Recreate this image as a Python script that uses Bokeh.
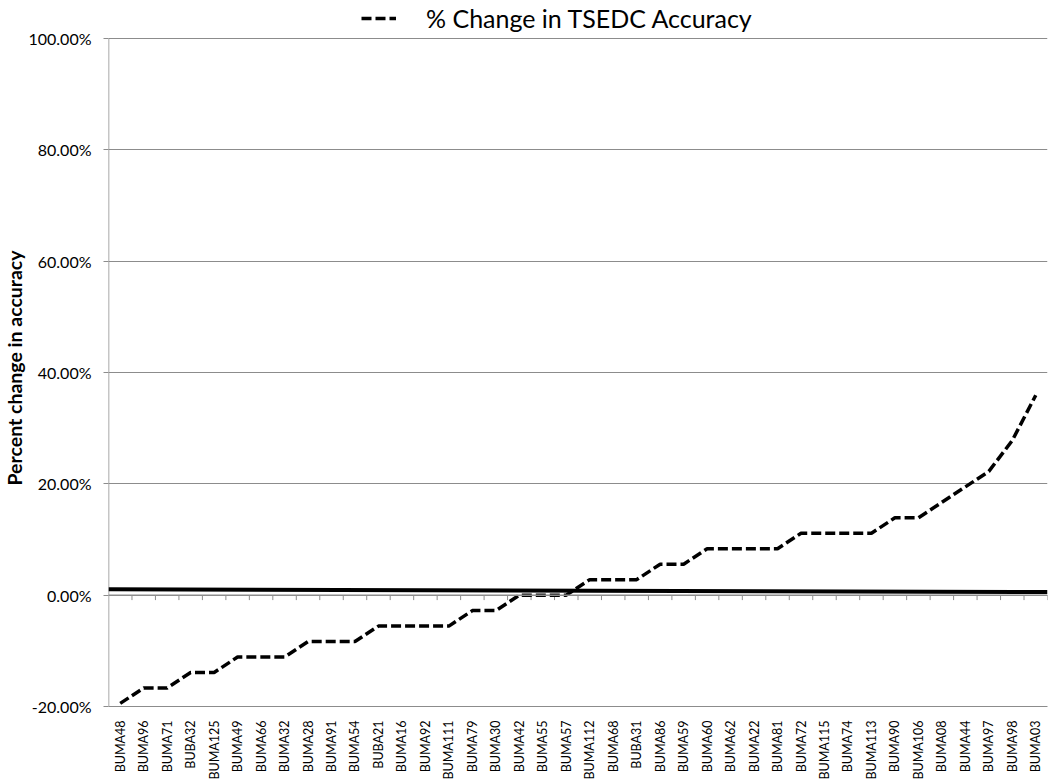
import math
from bokeh.plotting import figure
from bokeh.models import (Range1d, FixedTicker, PrintfTickFormatter, Span, Legend, LegendItem, Title)
from bokeh.embed import file_html
from bokeh.resources import INLINE

# ---- data ----
categories = ["BUMA48", "BUMA96", "BUMA71", "BUBA32", "BUMA125", "BUMA49", "BUMA66", "BUMA32",
              "BUMA28", "BUMA91", "BUMA54", "BUBA21", "BUMA16", "BUMA92", "BUMA111", "BUMA79",
              "BUMA30", "BUMA42", "BUMA55", "BUMA57", "BUMA112", "BUMA68", "BUBA31", "BUMA86",
              "BUMA59", "BUMA60", "BUMA62", "BUMA22", "BUMA81", "BUMA72", "BUMA115", "BUMA74",
              "BUMA113", "BUMA90", "BUMA106", "BUMA08", "BUMA44", "BUMA97", "BUMA98", "BUMA03"]
pct_change = [-19.44, -16.67, -16.67, -13.89, -13.89, -11.11, -11.11, -11.11,
              -8.33, -8.33, -8.33, -5.56, -5.56, -5.56, -5.56, -2.78,
              -2.78, 0.00, 0.00, 0.00, 2.78, 2.78, 2.78, 5.56,
              5.56, 8.33, 8.33, 8.33, 8.33, 11.11, 11.11, 11.11,
              11.11, 13.89, 13.89, 16.67, 19.44, 22.22, 27.78, 35.90]
trend_ends = [1.05, 0.55]          # solid reference line, left and right ends (%)
y_ticks = [-20, 0, 20, 40, 60, 80, 100]
series_label = "% Change in TSEDC Accuracy"
y_title = "Percent change in accuracy"

FONT = "Lato"
GRID = "#8c8c8c"

W, H = 1050, 782
B_LEFT, B_RIGHT, B_BOT = 105, 3, 72
TOP_PAD = 38                      # room above the 100% line for the legend
FRAME_H = H - B_BOT
PLOT_H = FRAME_H - TOP_PAD
y_span = y_ticks[-1] - y_ticks[0]
y_end = y_ticks[-1] + TOP_PAD * y_span / PLOT_H

n = len(categories)
xs = list(range(1, n + 1))

p = figure(width=W, height=H, output_backend="svg", toolbar_location=None,
           x_range=Range1d(0.5, n + 0.5), y_range=Range1d(y_ticks[0], y_end),
           min_border_left=B_LEFT, min_border_right=B_RIGHT,
           min_border_top=0, min_border_bottom=B_BOT)
p.outline_line_color = None
p.background_fill_color = "white"
p.border_fill_color = "white"

# y axis
p.yaxis.ticker = FixedTicker(ticks=y_ticks)
p.yaxis.formatter = PrintfTickFormatter(format="%.2f%%")
p.yaxis.axis_line_color = None
p.yaxis.major_tick_line_color = GRID
p.yaxis.major_tick_out = 5
p.yaxis.major_tick_in = 0
p.yaxis.minor_tick_line_color = None
p.yaxis.major_label_standoff = 12
p.yaxis.major_label_text_font = FONT
p.yaxis.major_label_text_font_size = "16px"
p.yaxis.major_label_text_color = "black"

p.add_layout(Title(text=y_title, align="left", offset=221, standoff=0,
                   text_font=FONT, text_font_size="19.5px", text_font_style="bold",
                   text_color="black"), "left")

# visible y-axis line from -20% to 100%
p.segment(x0=[0.5], x1=[0.5], y0=[y_ticks[0]], y1=[y_ticks[-1]], line_color=GRID, line_width=1.5)

# x axis (labels at the bottom)
p.xaxis.ticker = FixedTicker(ticks=xs)
p.xaxis.major_label_overrides = {i: c for i, c in zip(xs, categories)}
p.xaxis.major_label_orientation = math.pi / 2
p.xaxis.major_label_text_font = FONT
p.xaxis.major_label_text_font_size = "12.5px"
p.xaxis.major_label_text_color = "black"
p.xaxis.axis_line_color = GRID
p.xaxis.major_tick_line_color = None
p.xaxis.minor_tick_line_color = None
p.xaxis.major_label_standoff = 8

# grid
p.xgrid.grid_line_color = None
p.ygrid.ticker = FixedTicker(ticks=y_ticks)
p.ygrid.grid_line_color = GRID
p.ygrid.grid_line_width = 1

# zero axis line with category-boundary ticks
p.add_layout(Span(location=0, dimension="width", line_color=GRID, line_width=1.5))
tick_len = 5 * y_span / PLOT_H
bounds = [i + 0.5 for i in xs]
p.segment(x0=bounds, x1=bounds, y0=[0] * n, y1=[-tick_len] * n, line_color=GRID, line_width=1)

# solid reference line
p.line([0.5, n + 0.5], trend_ends, line_color="black", line_width=4)

# dashed series
r = p.line(xs, pct_change, line_color="black", line_width=3.5, line_dash="10 4")

legend = Legend(items=[LegendItem(label=series_label, renderers=[r])],
                location=(253, FRAME_H - 37),
                label_text_font=FONT, label_text_font_size="25px", label_text_color="black",
                glyph_width=35, glyph_height=20, border_line_color=None,
                background_fill_alpha=0, padding=0, margin=0, label_standoff=30)
p.add_layout(legend, "center")

open("out.html", "w").write(file_html(p, INLINE))
